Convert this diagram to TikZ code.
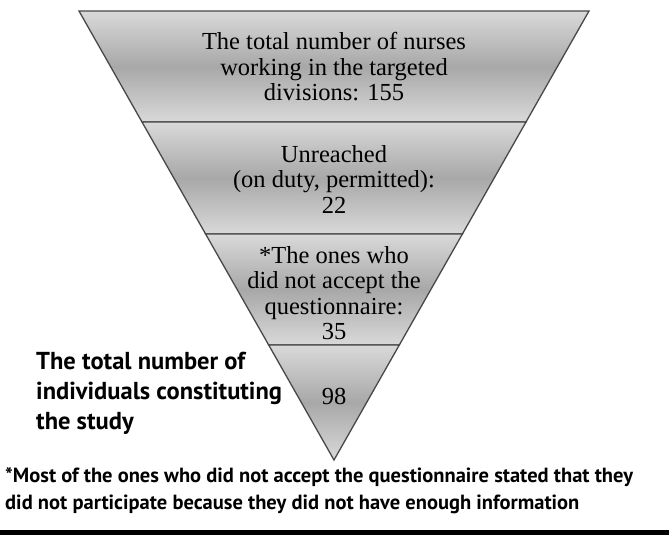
\documentclass[tikz,border=0pt]{standalone}
\usepackage{fontspec}
\setmainfont{Liberation Serif}
\newfontfamily\notefont{PT Sans}
\definecolor{bandlight}{HTML}{D9D9D9}
\definecolor{banddark}{HTML}{A8A8A8}
\definecolor{bandedge}{HTML}{484848}

\begin{document}
\begin{tikzpicture}[x=1pt,y=-1pt,
    band/.style={draw=bandedge,line width=1.3pt,top color=bandlight,bottom color=bandlight,middle color=banddark},
    bandtext/.style={align=center,inner sep=0pt,font=\fontsize{24.5}{25.5}\selectfont},
    sidetext/.style={align=left,anchor=west,inner sep=0pt,font=\notefont\bfseries\fontsize{24.5}{30}\selectfont},
    notetext/.style={align=left,anchor=west,inner sep=0pt,font=\notefont\bfseries\fontsize{20.5}{27}\selectfont}]
\useasboundingbox (0,0) rectangle (669,535);
\coordinate (t0l) at (79,11);
\coordinate (t0r) at (589,11);
\coordinate (t1l) at (142,122);
\coordinate (t1r) at (526,122);
\coordinate (t2l) at (205.6,234);
\coordinate (t2r) at (462.4,234);
\coordinate (t3l) at (268.7,345);
\coordinate (t3r) at (399.3,345);
\coordinate (apex) at (334,460);
\draw[band] (t0l) -- (t0r) -- (t1r) -- (t1l) -- cycle;
\draw[band] (t1l) -- (t1r) -- (t2r) -- (t2l) -- cycle;
\draw[band] (t2l) -- (t2r) -- (t3r) -- (t3l) -- cycle;
\draw[band] (t3l) -- (t3r) -- (apex) -- cycle;
\draw (334,67) node[bandtext](band0) {The total number of nurses\\working in the targeted\\divisions: 155};
\draw (334,179) node[bandtext](band1) {Unreached\\(on duty, permitted):\\22};
\draw (334,293) node[bandtext](band2) {*The ones who\\did not accept the\\questionnaire:\\35};
\draw (334,396) node[bandtext](band3) {98};
\draw (36,393) node[sidetext](study) {The total number of\\individuals constituting\\the study};
\draw (5,491) node[notetext](note) {*Most of the ones who did not accept the questionnaire stated that they\\did not participate because they did not have enough information};
\fill (0,529.5) rectangle (669,535);
\end{tikzpicture}
\end{document}
